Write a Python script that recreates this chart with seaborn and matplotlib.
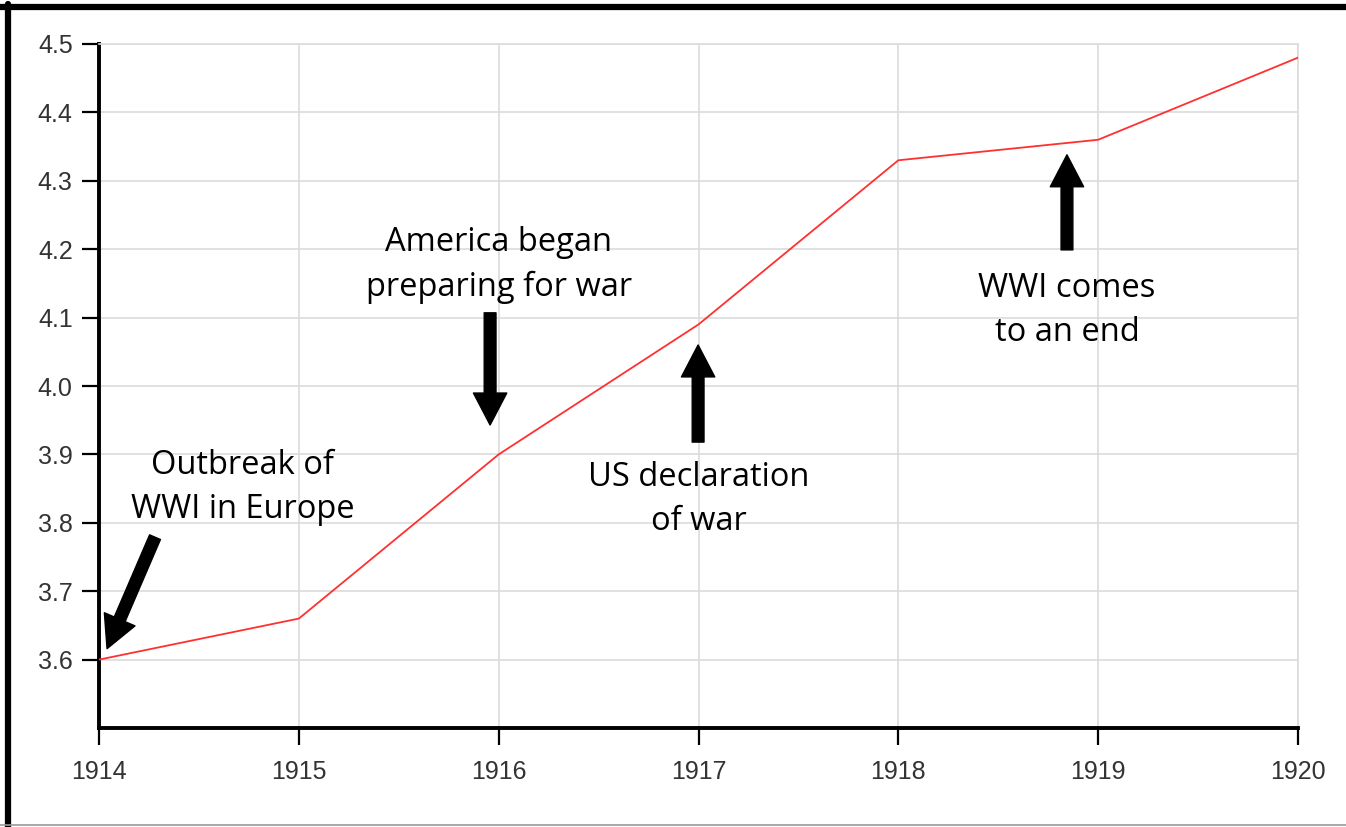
import matplotlib
matplotlib.use("Agg")
import matplotlib.pyplot as plt
from matplotlib.lines import Line2D
import pandas as pd
import seaborn as sns

years = [1914, 1915, 1916, 1917, 1918, 1919, 1920]
values = [3.60, 3.66, 3.90, 4.09, 4.33, 4.36, 4.48]
y_ticks = [3.6, 3.7, 3.8, 3.9, 4.0, 4.1, 4.2, 4.3, 4.4, 4.5]

# (label, text position, arrow tail, arrow tip) in data units
notes = [
    ("Outbreak of\nWWI in Europe", (1914.72, 3.852), (1914.28, 3.779), (1914.04, 3.616)),
    ("America began\npreparing for war", (1916.0, 4.177), (1915.957, 4.107), (1915.957, 3.943)),
    ("US declaration\nof war", (1917.0, 3.834), (1916.998, 3.918), (1916.998, 4.060)),
    ("WWI comes\nto an end", (1918.844, 4.110), (1918.844, 4.199), (1918.844, 4.338)),
]

df = pd.DataFrame({"year": years, "value": values})

sns.set_style("white")
plt.rcParams["font.family"] = ["Liberation Sans", "DejaVu Sans"]

fig = plt.figure(figsize=(13.46, 8.27), dpi=100)
ax = fig.add_axes([0.0736, 0.1197, 0.8907, 0.8271])

sns.lineplot(data=df, x="year", y="value", color="#ff3030", linewidth=1.3, ax=ax, zorder=3)

ax.set_xlim(1914, 1920)
ax.set_ylim(3.5, 4.5)
ax.set_xticks(years)
ax.set_yticks(y_ticks)
ax.set_xticklabels([str(y) for y in years])
ax.set_yticklabels([f"{v:.1f}" for v in y_ticks])
ax.set_xlabel("")
ax.set_ylabel("")

ax.grid(True, color="#dcdcdc", linewidth=1.2)
for s in ["left", "bottom"]:
    ax.spines[s].set_color("black")
    ax.spines[s].set_linewidth(2.8)
for s in ["top", "right"]:
    ax.spines[s].set_color("#dcdcdc")
    ax.spines[s].set_linewidth(1.2)

ax.tick_params(axis="both", colors="black", labelcolor="#333333", labelsize=18,
               width=1.6, direction="out", left=True, bottom=True)
ax.tick_params(axis="x", length=12, pad=11)
ax.tick_params(axis="y", length=12, pad=7)

for label, txt, tail, tip in notes:
    ax.text(txt[0], txt[1], label, ha="center", va="center", fontsize=23.5, color="black",
            family=["Open Sans", "DejaVu Sans"], linespacing=1.45, zorder=5)
    ax.annotate("", xy=tip, xytext=tail, annotation_clip=False,
                arrowprops=dict(facecolor="black", edgecolor="black", width=8.5,
                                headwidth=24, headlength=23, shrink=0, clip_on=False),
                zorder=5)

# picture frame
fig.add_artist(Line2D([0, 1], [0.991, 0.991], color="black", linewidth=4.5, transform=fig.transFigure))
fig.add_artist(Line2D([0.0058, 0.0058], [0, 0.995], color="black", linewidth=4.5, transform=fig.transFigure))
fig.add_artist(Line2D([0, 1], [0.003, 0.003], color="#999999", linewidth=1.2, transform=fig.transFigure))

fig.savefig("out.png", dpi=100)
